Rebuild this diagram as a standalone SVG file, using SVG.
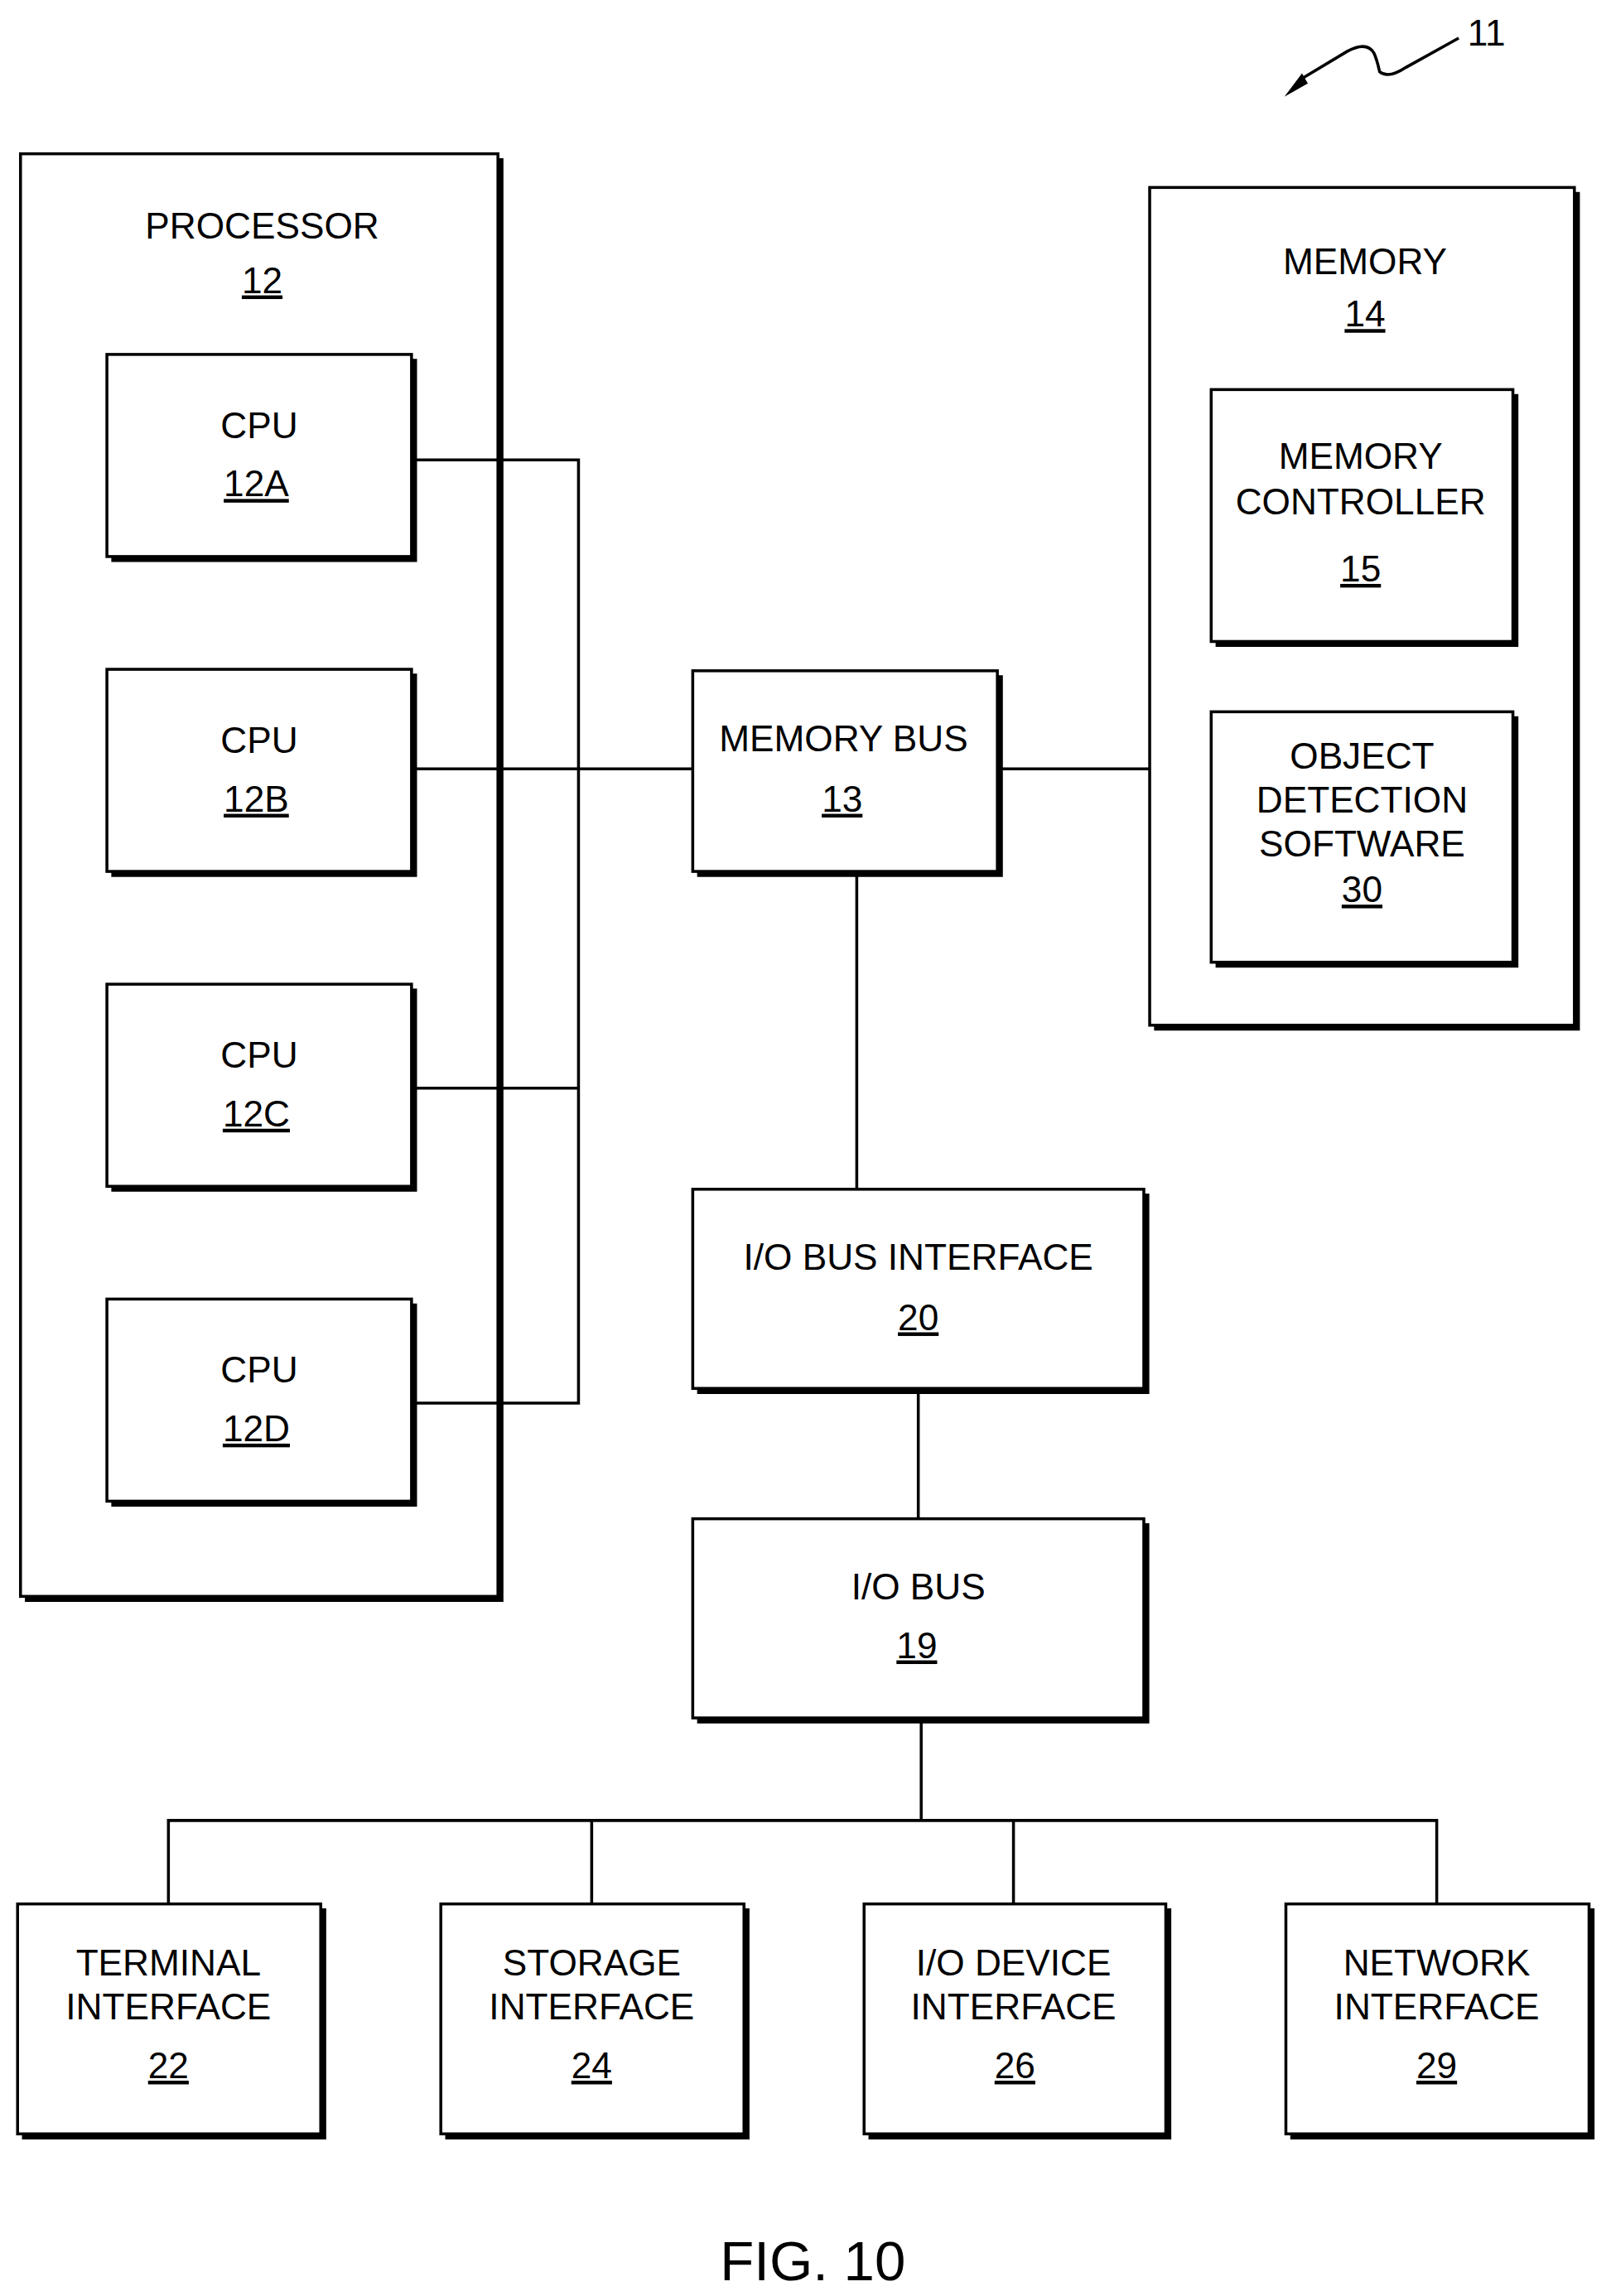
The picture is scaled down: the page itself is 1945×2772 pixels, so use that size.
<svg xmlns="http://www.w3.org/2000/svg" width="1945" height="2772" viewBox="0 0 1945 2772">
<style>
.b{fill:#fff;stroke:#000;stroke-width:2}
.s{fill:none;stroke:#000;stroke-width:3.5}
.c{fill:none;stroke:#000;stroke-width:2}
text{font-family:"Liberation Sans",Arial,sans-serif;font-size:25px;text-anchor:middle;fill:#000}
.u{text-decoration:underline}
</style>
<rect width="1945" height="2772" fill="#fff"/>
<g transform="scale(1.7682)">
<g id="processor"><rect class="b" x="14" y="105" width="326" height="985"/><polyline class="s" points="342,108 342,1092 17,1092"/><text x="179" y="163">PROCESSOR</text><text class="u" x="179" y="200">12</text></g>
<g id="cpu12a"><rect class="b" x="73" y="242" width="208" height="138"/><polyline class="s" points="283,245 283,382 76,382"/><text x="177" y="299">CPU</text><text class="u" x="175" y="339">12A</text></g>
<g id="cpu12b"><rect class="b" x="73" y="457" width="208" height="138"/><polyline class="s" points="283,460 283,597 76,597"/><text x="177" y="514">CPU</text><text class="u" x="175" y="554">12B</text></g>
<g id="cpu12c"><rect class="b" x="73" y="672" width="208" height="138"/><polyline class="s" points="283,675 283,812 76,812"/><text x="177" y="729">CPU</text><text class="u" x="175" y="769">12C</text></g>
<g id="cpu12d"><rect class="b" x="73" y="887" width="208" height="138"/><polyline class="s" points="283,890 283,1027 76,1027"/><text x="177" y="944">CPU</text><text class="u" x="175" y="984">12D</text></g>
<g id="membus"><rect class="b" x="473" y="458" width="208" height="137"/><polyline class="s" points="683,461 683,597 476,597"/><text x="576" y="513">MEMORY BUS</text><text class="u" x="575" y="554">13</text></g>
<g id="memory"><rect class="b" x="785" y="128" width="290" height="572"/><polyline class="s" points="1077,131 1077,702 788,702"/><text x="932" y="187">MEMORY</text><text class="u" x="932" y="223">14</text></g>
<g id="memctrl"><rect class="b" x="827" y="266" width="206" height="172"/><polyline class="s" points="1035,269 1035,440 830,440"/><text x="929" y="320">MEMORY</text><text x="929" y="351">CONTROLLER</text><text class="u" x="929" y="397">15</text></g>
<g id="objdet"><rect class="b" x="827" y="486" width="206" height="171"/><polyline class="s" points="1035,489 1035,659 830,659"/><text x="930" y="525">OBJECT</text><text x="930" y="555">DETECTION</text><text x="930" y="585">SOFTWARE</text><text class="u" x="930" y="616">30</text></g>
<g id="iobusif"><rect class="b" x="473" y="812" width="308" height="136"/><polyline class="s" points="783,815 783,950 476,950"/><text x="627" y="867">I/O BUS INTERFACE</text><text class="u" x="627" y="908">20</text></g>
<g id="iobus"><rect class="b" x="473" y="1037" width="308" height="136"/><polyline class="s" points="783,1040 783,1175 476,1175"/><text x="627" y="1092">I/O BUS</text><text class="u" x="626" y="1132">19</text></g>
<g id="term"><rect class="b" x="12" y="1300" width="207" height="157"/><polyline class="s" points="221,1303 221,1459 15,1459"/><text x="115" y="1349">TERMINAL</text><text x="115" y="1379">INTERFACE</text><text class="u" x="115" y="1419">22</text></g>
<g id="storage"><rect class="b" x="301" y="1300" width="207" height="157"/><polyline class="s" points="510,1303 510,1459 304,1459"/><text x="404" y="1349">STORAGE</text><text x="404" y="1379">INTERFACE</text><text class="u" x="404" y="1419">24</text></g>
<g id="iodev"><rect class="b" x="590" y="1300" width="206" height="157"/><polyline class="s" points="798,1303 798,1459 593,1459"/><text x="692" y="1349">I/O DEVICE</text><text x="692" y="1379">INTERFACE</text><text class="u" x="693" y="1419">26</text></g>
<g id="net"><rect class="b" x="878" y="1300" width="207" height="157"/><polyline class="s" points="1087,1303 1087,1459 881,1459"/><text x="981" y="1349">NETWORK</text><text x="981" y="1379">INTERFACE</text><text class="u" x="981" y="1419">29</text></g>
<g id="connectors">
<polyline class="c" points="281,314 395,314 395,958 281,958"/>
<line class="c" x1="281" y1="525" x2="473" y2="525"/>
<line class="c" x1="281" y1="743" x2="395" y2="743"/>
<line class="c" x1="681" y1="525" x2="785" y2="525"/>
<line class="c" x1="585" y1="595" x2="585" y2="812"/>
<line class="c" x1="627" y1="948" x2="627" y2="1037"/>
<line class="c" x1="629" y1="1173" x2="629" y2="1243"/>
<polyline class="c" points="115,1300 115,1243 981,1243 981,1300"/>
<line class="c" x1="404" y1="1243" x2="404" y2="1300"/>
<line class="c" x1="692" y1="1243" x2="692" y2="1300"/>
</g>
<g id="ref11"><path class="c" d="M996,26 L960,46 Q948,54 942,49 Q940,40 938,36 Q933,28 920,35 L890,53"/><polygon points="877,66 893,57 889,50"/><text x="1015" y="31" style="text-anchor:middle">11</text></g>
<text x="555" y="1557" style="font-size:38px">FIG. 10</text>
</g>
</svg>
